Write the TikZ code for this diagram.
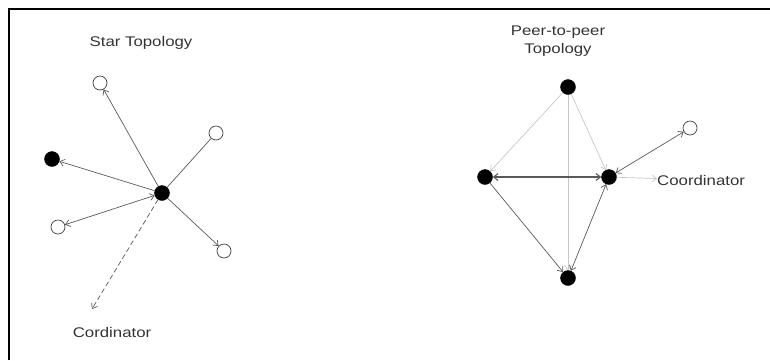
\documentclass[tikz,border=0pt]{standalone}
\usepackage{fontspec}
\setmainfont{Liberation Sans}
\newfontfamily\labelfont[FakeStretch=1.2]{Liberation Sans}
\usetikzlibrary{arrows.meta}
\begin{document}
\begin{tikzpicture}[x=1pt,y=-1pt,
  lbl/.style={font=\labelfont\fontsize{14}{18}\selectfont, text=black!80, inner sep=0pt},
  open/.style={circle, draw=black!75, fill=white, line width=0.7pt, minimum size=14pt, inner sep=0pt},
  full/.style={circle, draw=black, fill=black, minimum width=15pt, minimum height=13pt, inner sep=0pt},
  tip/.style={-{Straight Barb[length=4.5pt,width=7pt]}},
  both/.style={{Straight Barb[length=4.5pt,width=7pt]}-{Straight Barb[length=4.5pt,width=7pt]}},
  link/.style={draw=black!65, line width=0.7pt},
  faint/.style={draw=black!22, line width=0.7pt}
]
\useasboundingbox (0,0) rectangle (770,360);
% frame
\draw[line width=1.4pt] (9,360) -- (9,9) -- (770,9);

% ---- star topology ----
\node[lbl] (t1) at (141,43) {Star Topology};
\node[full] (c)  at (162,193) {};
\node[open] (s1) at (100,83) {};
\node[open] (s2) at (216,133) {};
\node[full] (s3) at (52,159) {};
\node[open] (s4) at (58,227) {};
\node[open] (s5) at (224,251) {};
\coordinate (d) at (92,309);
\node[lbl] (cl) at (112,332) {Cordinator};

\draw[link,tip] (c) -- (s1);
\draw[link] (s2) -- (c);
\draw[link,tip] (c) -- (s3);
\draw[link,both] (c) -- (s4);
\draw[link,tip] (c) -- (s5);
\draw[link,dash pattern=on 5pt off 3pt,tip] (c) -- (d);

% ---- peer-to-peer topology ----
\node[lbl, align=center] (t2) at (558,41) {Peer-to-peer\\Topology};
\node[full] (p1) at (568,87) {};
\node[full] (p2) at (485,177) {};
\node[full] (p3) at (609,177) {};
\node[full] (p4) at (568,278) {};
\node[open] (p5) at (690,128) {};
\node[lbl, anchor=west] (co) at (657,180) {Coordinator};

\draw[faint,tip] (p1) -- (p2);
\draw[faint,tip] (p1) -- (p3);
\draw[faint,tip] (p1) -- (p4);
\draw[faint,tip] (p3) -- (co);
\draw[link,line width=1.1pt,both] (p2) -- (p3);
\draw[link,tip] (p2) -- (p4);
\draw[link,both] (p3) -- (p4);
\draw[link,both] (p3) -- (p5);
\end{tikzpicture}
\end{document}
